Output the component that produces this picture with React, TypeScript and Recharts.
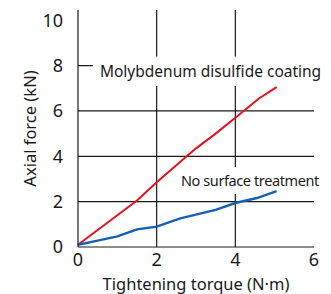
import React from 'react';
import {
  LineChart,
  Line,
  XAxis,
  YAxis,
  CartesianGrid,
  ReferenceArea,
} from 'recharts';

const torqueMoly = [0, 0.5, 1, 1.5, 2, 2.5, 3, 3.5, 4, 4.6, 5.05];
const forceMoly = [0.1, 0.75, 1.4, 2.05, 2.85, 3.6, 4.35, 5.0, 5.7, 6.55, 7.05];

const torqueBare = [0, 0.5, 1, 1.5, 2, 2.6, 3.5, 4, 4.55, 5.05];
const forceBare = [0.1, 0.28, 0.47, 0.78, 0.9, 1.26, 1.64, 1.94, 2.16, 2.46];

const xTicks = [0, 2, 4, 6];
const yTicks = [0, 2, 4, 6, 8, 10];

const molyLabel = 'Molybdenum disulfide coating';
const bareLabel = 'No surface treatment';

const molyData = torqueMoly.map((t, i) => ({ t, f: forceMoly[i] }));
const bareData = torqueBare.map((t, i) => ({ t, f: forceBare[i] }));

const FONT = '"Noto Sans", sans-serif';
const INK = '#1a1a1a';

export default function App() {
  return (
    <div style={{ position: 'absolute', left: 0, top: 0, width: 331, height: 294, background: '#fff' }}>
      <LineChart
        width={331}
        height={294}
        margin={{ top: 10, right: 17, left: 0, bottom: 0 }}
        style={{ fontFamily: FONT }}
      >
        <CartesianGrid
          stroke={INK}
          strokeWidth={1.2}
          horizontalValues={[2, 4, 6, 8]}
          verticalValues={[2, 4]}
        />
        <XAxis
          type="number"
          dataKey="t"
          domain={[0, 6]}
          ticks={xTicks}
          tickLine={false}
          axisLine={{ stroke: INK, strokeWidth: 1.2 }}
          tick={{ fill: INK, fontSize: 18 }}
          tickMargin={0}
          height={47}
          allowDuplicatedCategory={false}
          label={{ value: 'Tightening torque (N·m)', position: 'insideBottom', offset: 4, fill: INK, fontSize: 16.5 }}
        />
        <YAxis
          type="number"
          dataKey="f"
          domain={[0, 10.45]}
          ticks={yTicks}
          tickLine={false}
          axisLine={{ stroke: INK, strokeWidth: 1.2 }}
          tick={{ fill: INK, fontSize: 18 }}
          tickMargin={9}
          width={78}
          label={{ value: 'Axial force (kN)', angle: -90, position: 'insideLeft', offset: 30, fill: INK, fontSize: 16.5, style: { textAnchor: 'middle' } }}
        />
        <ReferenceArea
          x1={0.38}
          x2={6}
          y1={7.1}
          y2={8.4}
          fill="#fff"
          fillOpacity={1}
          stroke="none"
          ifOverflow="visible"
          label={{ value: molyLabel, position: 'insideLeft', offset: 7, fill: INK, fontSize: 15.5 }}
        />
        <ReferenceArea
          x1={2.54}
          x2={6}
          y1={2.34}
          y2={3.53}
          fill="#fff"
          fillOpacity={1}
          stroke="none"
          ifOverflow="visible"
          label={{ value: bareLabel, position: 'insideLeft', offset: 3, fill: INK, fontSize: 14.5, letterSpacing: -0.4 }}
        />
        <Line
          data={molyData}
          dataKey="f"
          type="linear"
          stroke="#e8101c"
          strokeWidth={2}
          dot={false}
          isAnimationActive={false}
        />
        <Line
          data={bareData}
          dataKey="f"
          type="linear"
          stroke="#1560b4"
          strokeWidth={2.4}
          dot={false}
          isAnimationActive={false}
        />
      </LineChart>
    </div>
  );
}
